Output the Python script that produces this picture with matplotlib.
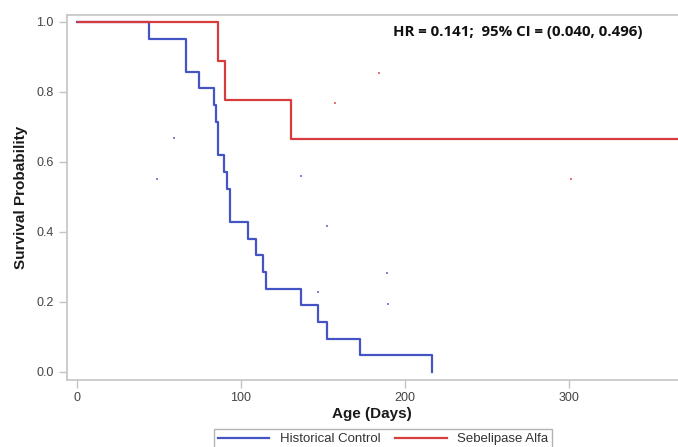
import matplotlib
matplotlib.use("Agg")
import matplotlib.pyplot as plt

plt.rcParams['font.family'] = ['Liberation Sans', 'DejaVu Sans']

# Kaplan-Meier steps
control_days = [0, 44.3, 66.7, 74.6, 83.7, 84.9, 86.4, 90.0, 91.8, 93.5, 104.3, 109.5,
                113.8, 115.6, 136.5, 147.3, 152.4, 172.7, 216.7]
control_surv = [1.0, 0.952, 0.857, 0.810, 0.762, 0.714, 0.619, 0.571, 0.524, 0.429, 0.381,
                0.333, 0.286, 0.238, 0.190, 0.143, 0.095, 0.048, 0.0]

sebelipase_days = [1, 86.2, 90.2, 130.6, 370]
sebelipase_surv = [1.0, 0.889, 0.778, 0.667, 0.667]

# stray censor dots
control_dot_x = [59.4, 48.8, 136.7, 152.4, 189.3, 189.5, 147.1]
control_dot_y = [0.669, 0.551, 0.560, 0.418, 0.282, 0.195, 0.229]
sebelipase_dot_x = [184.4, 157.2, 301.0]
sebelipase_dot_y = [0.854, 0.768, 0.552]

x_ticks = [0, 100, 200, 300]
y_ticks = [0.0, 0.2, 0.4, 0.6, 0.8, 1.0]

blue = '#4454c4'
red = '#d63c3c'
grey = '#c4c4c4'

fig = plt.figure(figsize=(6.78, 4.47), dpi=100)
ax = fig.add_axes([0.0984, 0.1499, 0.9016, 0.8166])

ax.step(control_days, control_surv, where='post', color=blue, lw=1.6, label='Historical Control')
ax.step(sebelipase_days, sebelipase_surv, where='post', color=red, lw=1.6, label='Sebelipase Alfa')
ax.plot(control_dot_x, control_dot_y, 's', color=blue, ms=2, mew=0, alpha=0.7)
ax.plot(sebelipase_dot_x, sebelipase_dot_y, 's', color=red, ms=2, mew=0, alpha=0.7)

ax.set_xlim(-6, 366.3)
ax.set_ylim(-0.023, 1.02)
ax.set_xticks(x_ticks)
ax.set_xticklabels([str(t) for t in x_ticks])
ax.set_yticks(y_ticks)
ax.set_yticklabels(['%.1f' % t for t in y_ticks])

for s in ax.spines.values():
    s.set_color(grey)
    s.set_linewidth(1.2)
ax.spines['right'].set_visible(False)
ax.tick_params(colors=grey, labelcolor='#444444', labelsize=9, length=6, width=1)
ax.tick_params(axis='x', pad=3)

ax.set_xlabel('Age (Days)', fontsize=11, fontweight='bold', color='#1a1a1a')
ax.set_ylabel('Survival Probability', fontsize=11, fontweight='bold', color='#1a1a1a')
ax.xaxis.set_label_coords(0.5, -0.075)
ax.yaxis.set_label_coords(-0.064, 0.5)

ax.text(192.6, 0.972, 'HR = 0.141;  95% CI = (0.040, 0.496)', fontsize=10.8,
        family=['Open Sans', 'DejaVu Sans'], fontweight='bold', color='#111111',
        ha='left', va='center')

leg = fig.legend(loc='upper center', bbox_to_anchor=(0.565, 0.04), ncol=2, fontsize=9.5,
                 frameon=True, fancybox=False, handlelength=3.9, columnspacing=1.1,
                 borderpad=0.3, borderaxespad=0, labelcolor='#333333')
leg.get_frame().set_edgecolor('#a0a0a0')
leg.get_frame().set_linewidth(1.0)

fig.savefig('out.png', dpi=100)
